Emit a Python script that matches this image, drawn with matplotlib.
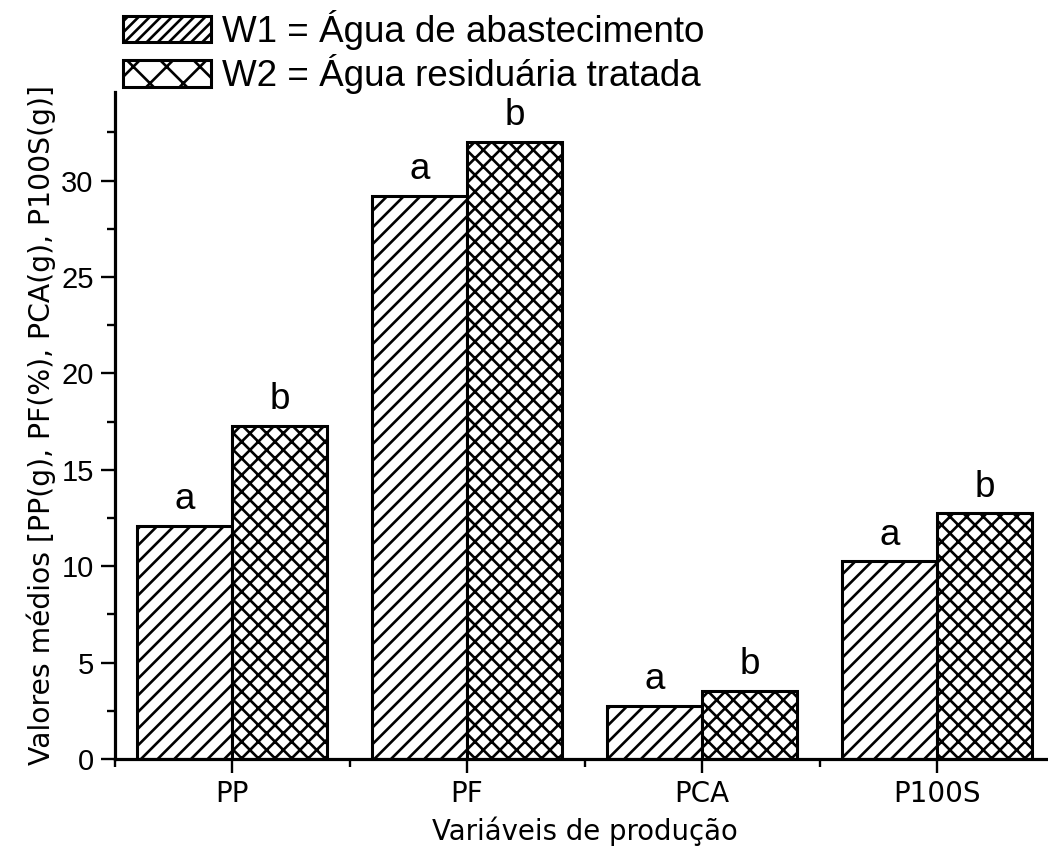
import matplotlib
matplotlib.use("Agg")
import matplotlib.pyplot as plt
import numpy as np
from matplotlib.patches import Patch
from matplotlib.ticker import MultipleLocator, FixedLocator

# Production variables and mean values for the two irrigation waters
categories = ["PP", "PF", "PCA", "P100S"]
w1_values = [12.1, 29.2, 2.75, 10.25]
w2_values = [17.3, 32.0, 3.55, 12.75]
w1_letters = ["a", "a", "a", "a"]
w2_letters = ["b", "b", "b", "b"]
series_labels = ["W1 = Água de abastecimento", "W2 = Água residuária tratada"]
y_ticks = [0, 5, 10, 15, 20, 25, 30]

plt.rcParams["hatch.linewidth"] = 1.9
plt.rcParams["hatch.color"] = "black"

fig = plt.figure(figsize=(10.48, 8.52), dpi=100)
W, H = 1048, 852
ax = fig.add_axes([114.5 / W, 93 / H, 940 / W, 667 / H])

x = np.arange(len(categories))
bw = 0.404
bars1 = ax.bar(x - bw / 2, w1_values, bw, facecolor="white", edgecolor="black",
               linewidth=2.2, hatch="//", label=series_labels[0])
bars2 = ax.bar(x + bw / 2, w2_values, bw, facecolor="white", edgecolor="black",
               linewidth=2.2, hatch="xx", label=series_labels[1])

letter_font = dict(family="Liberation Sans", size=26.5)
for bars, letters in ((bars1, w1_letters), (bars2, w2_letters)):
    for b, lab in zip(bars, letters):
        ax.annotate(lab, (b.get_x() + b.get_width() / 2, b.get_height()),
                    xytext=(0, 12), textcoords="offset points",
                    ha="center", va="baseline", **letter_font)

ax.set_xlim(-0.5, 3.5)
ax.set_ylim(0, 34.6)

for side in ("top", "right"):
    ax.spines[side].set_visible(False)
for side in ("left", "bottom"):
    ax.spines[side].set_linewidth(2.3)

ax.set_xticks(x)
ax.set_xticklabels(categories, fontfamily="DejaVu Sans", fontsize=20)
ax.xaxis.set_minor_locator(FixedLocator([-0.5, 0.5, 1.5, 2.5]))
ax.set_yticks(y_ticks)
ax.set_yticklabels([str(v) for v in y_ticks], fontfamily="Liberation Sans", fontsize=21)
ax.yaxis.set_minor_locator(MultipleLocator(2.5))
ax.tick_params(which="major", length=10, width=1.7, direction="out", pad=5)
ax.tick_params(which="minor", length=6, width=1.7, direction="out")

ax.set_xlabel("Variáveis de produção", fontfamily="DejaVu Sans", fontsize=19.8, labelpad=6)
ax.set_ylabel("Valores médios [PP(g), PF(%), PCA(g), P100S(g)]",
              fontfamily="DejaVu Sans", fontsize=20.3, labelpad=4)

handles = [Patch(facecolor="white", edgecolor="black", linewidth=2.2, hatch="///"),
           Patch(facecolor="white", edgecolor="black", linewidth=2.2, hatch="x")]
fig.legend(handles, series_labels, loc="upper left",
           bbox_to_anchor=(123 / W, 1 - 10 / H), frameon=False,
           prop=dict(family="Liberation Sans", size=26.5),
           handlelength=2.4, handleheight=0.72, handletextpad=0.3,
           labelspacing=0.12, borderpad=0, borderaxespad=0)

fig.savefig("out.png", dpi=100)
